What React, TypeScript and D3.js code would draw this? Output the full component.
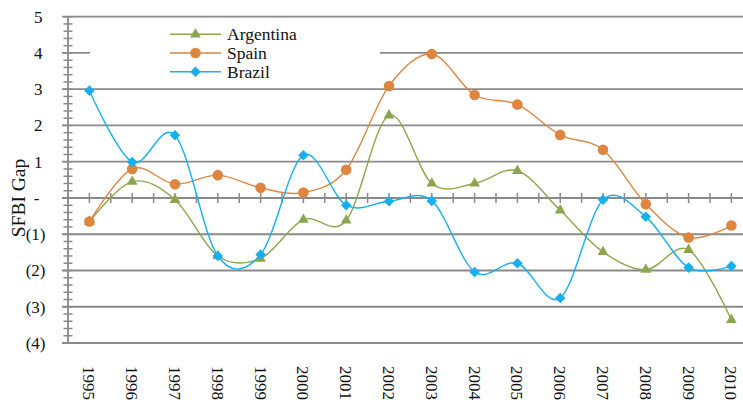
import * as d3 from "d3";

// categories and series values
const years = ["1995", "1996", "1997", "1998", "1999", "2000", "2001", "2002", "2003", "2004", "2005", "2006", "2007", "2008", "2009", "2010"];
const argentina = [-0.65, 0.45, -0.05, -1.6, -1.67, -0.6, -0.62, 2.28, 0.4, 0.4, 0.75, -0.34, -1.49, -1.98, -1.43, -3.36];
const spain = [-0.65, 0.8, 0.38, 0.63, 0.28, 0.15, 0.78, 3.09, 3.97, 2.84, 2.58, 1.74, 1.33, -0.17, -1.09, -0.76];
const brazil = [2.96, 0.99, 1.73, -1.6, -1.56, 1.18, -0.2, -0.09, -0.08, -2.04, -1.8, -2.76, -0.05, -0.52, -1.92, -1.88];
const yTicks = [5, 4, 3, 2, 1, 0, -1, -2, -3, -4];

const W = 743;
const H = 406;
const left = 68;
const top = 16.7;
const bottom = 343;
const font = "'Liberation Serif', 'Times New Roman', serif";
const grid = "#8a8a8a";

const series = [
	{ name: "Argentina", values: argentina, color: "#8ca64e", marker: "triangle" },
	{ name: "Spain", values: spain, color: "#de8540", marker: "circle" },
	{ name: "Brazil", values: brazil, color: "#16b0ee", marker: "diamond" },
];

const x = d3.scaleBand().domain(years).range([left, left + 16 * 42.8]);
const y = d3.scaleLinear().domain([-4, 5]).range([bottom, top]);
const cx = (d: string) => (x(d) || 0) + x.bandwidth() / 2;

const line = d3
	.line<number>()
	.x((_, i) => cx(years[i]))
	.y((v) => y(v))
	.curve(d3.curveCardinal.tension(0));

const tri = d3.symbol(d3.symbolTriangle, 50)()!;
const dia = d3.symbol(d3.symbolSquare, 56)()!;

const fmt = (n: number) => (n > 0 ? String(n) : n === 0 ? "-" : `(${-n})`);

function Marker({ kind, color, px, py }: { kind: string; color: string; px: number; py: number }) {
	if (kind === "circle") return <circle cx={px} cy={py} r={5.3} fill={color} />;
	if (kind === "triangle") return <path d={tri} transform={`translate(${px},${py})`} fill={color} />;
	return <path d={dia} transform={`translate(${px},${py}) rotate(45)`} fill={color} />;
}

export default function App() {
	const zero = y(0);
	const minor = d3.range(-4, 5.001, 0.2);
	const xTicks = d3.range(0, 33).map((k) => left + k * (x.bandwidth() / 2));

	return (
		<svg width={W} height={H} style={{ position: "absolute", left: 0, top: 0, background: "#fff" }} fontFamily={font}>
			<rect width={W} height={H} fill="#fff" />
			{/* horizontal gridlines */}
			{yTicks.map((t) => (
				<line key={t} x1={left - 6} x2={W} y1={y(t)} y2={y(t)} stroke={grid} strokeWidth={1.8} />
			))}
			{/* minor ticks on the value axis */}
			{minor.map((m, i) => (
				<line key={i} x1={left - 4.5} x2={left + 4.5} y1={y(m)} y2={y(m)} stroke={grid} strokeWidth={1.5} />
			))}
			<line x1={left} x2={left} y1={top} y2={bottom} stroke={grid} strokeWidth={1.8} />
			{/* category axis ticks across the zero line */}
			{xTicks.map((t, i) => (
				<line key={i} x1={t} x2={t} y1={zero - 5} y2={zero + 5} stroke={grid} strokeWidth={1.5} />
			))}
			{/* value labels */}
			{yTicks.map((t) => (
				<text
					key={t}
					x={t < 0 ? 45.5 : t === 0 ? 39.5 : 42.5}
					y={y(t)}
					dy="0.35em"
					textAnchor="end"
					fontSize={17}
					fill="#111"
				>
					{fmt(t)}
				</text>
			))}
			{/* category labels */}
			{years.map((yr) => (
				<text key={yr} transform={`translate(${cx(yr)},366) rotate(90)`} dy="0.35em" fontSize={17} fill="#111">
					{yr}
				</text>
			))}
			<text transform={`translate(25,198) rotate(-90)`} textAnchor="middle" fontSize={19.5} fill="#111">
				SFBI Gap
			</text>
			{/* legend background */}
			<rect x={90} y={22} width={290} height={63} fill="#fff" />
			{series.map((s, i) => {
				const ly = 34.3 + i * 18.7;
				return (
					<g key={s.name}>
						<line x1={170} x2={221} y1={ly} y2={ly} stroke={s.color} strokeWidth={1.4} />
						<Marker kind={s.marker} color={s.color} px={195.5} py={ly} />
						<text x={227} y={ly} dy="0.35em" fontSize={17.5} fill="#111">
							{s.name}
						</text>
					</g>
				);
			})}
			{/* series */}
			{series.map((s) => (
				<g key={s.name}>
					<path d={line(s.values) || ""} fill="none" stroke={s.color} strokeWidth={1.4} />
					{s.values.map((v, i) => (
						<Marker key={i} kind={s.marker} color={s.color} px={cx(years[i])} py={y(v)} />
					))}
				</g>
			))}
		</svg>
	);
}
